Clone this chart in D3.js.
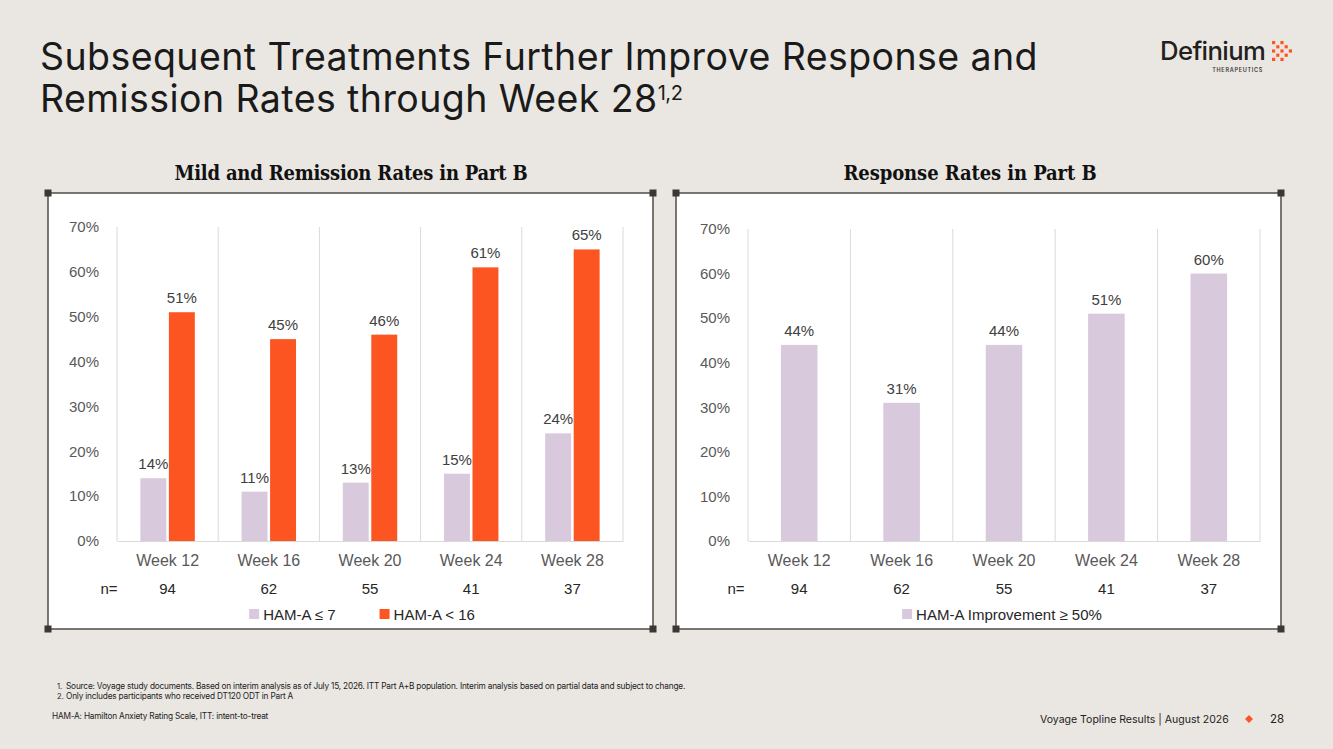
<!DOCTYPE html>
<html>
<head>
<meta charset="utf-8">
<script src="https://cdn.jsdelivr.net/npm/d3@7"></script>
<style>
  html, body { margin: 0; padding: 0; background: #eae7e2; }
  svg { display: block; }
</style>
</head>
<body>
<svg id="slide" width="1333" height="749"></svg>
<script>
// dades del gràfic
var weeks = ["Week 12", "Week 16", "Week 20", "Week 24", "Week 28"];
var nCounts = [94, 62, 55, 41, 37];
var hamaLe7 = [14, 11, 13, 15, 24];
var hamaLt16 = [51, 45, 46, 61, 65];
var improve50 = [44, 31, 44, 51, 60];
var yTicks = [0, 10, 20, 30, 40, 50, 60, 70];
var leftSeries = ["HAM-A \u2264 7", "HAM-A < 16"];
var rightSeries = ["HAM-A Improvement \u2265 50%"];

var LAV = "#d9c9dd", ORANGE = "#fd5522", GRID = "#d9d9d9";
var SANS = "'Liberation Sans', Arial, sans-serif";
var TITLEF = "Inter, 'Noto Sans', sans-serif";
var SERIF = "'DejaVu Serif Condensed', 'DejaVu Serif', serif";

var svg = d3.select("#slide");
svg.append("rect").attr("width", 1333).attr("height", 749).attr("fill", "#eae7e2");

// ajusta la mida de la lletra a una amplada donada
function fitWidth(t, target) {
  var w = t.node().getComputedTextLength();
  var fs = parseFloat(t.attr("font-size"));
  t.attr("font-size", fs * target / w);
  return fs * target / w;
}
// ajusta l'espaiat entre lletres a una amplada donada
function fitSpacing(t, target) {
  var w = t.node().getComputedTextLength();
  var n = t.text().length;
  var ls = parseFloat(t.attr("letter-spacing") || 0) + (target - w) / n;
  t.attr("letter-spacing", ls);
  return ls;
}

// títol
var t1 = svg.append("text").attr("x", 40).attr("y", 70)
  .attr("font-family", TITLEF).attr("font-size", 37.5)
  .attr("fill", "#1a1a1a").attr("letter-spacing", 0)
  .text("Subsequent Treatments Further Improve Response and");
var tls = fitSpacing(t1, 998);
var t2 = svg.append("text").attr("x", 40).attr("y", 112)
  .attr("font-family", TITLEF).attr("font-size", 37.5)
  .attr("fill", "#1a1a1a").attr("letter-spacing", tls);
t2.append("tspan").text("Remission Rates through Week 28");
t2.append("tspan").attr("font-size", 20).attr("dy", -12).attr("letter-spacing", -0.5).text("1,2");

// logo
var logo = svg.append("g");
var lt = logo.append("text").attr("x", 1160).attr("y", 60)
  .attr("font-family", "Inter, sans-serif").attr("font-size", 24).attr("font-weight", 500)
  .attr("fill", "#231f20").attr("letter-spacing", -0.6).text("Definium");
fitWidth(lt, 105);
logo.append("text").attr("x", 1263).attr("y", 72).attr("text-anchor", "end")
  .attr("font-family", "Inter, sans-serif").attr("font-size", 5.5).attr("font-weight", 600)
  .attr("letter-spacing", 0.7).attr("fill", "#3a3a3a").text("THERAPEUTICS");
var dotPattern = [[1,0,1,0,0],[0,1,0,1,0],[1,0,1,0,1],[0,1,0,1,0],[1,0,1,0,0]];
dotPattern.forEach(function(row, r) {
  row.forEach(function(v, c) {
    if (v) logo.append("rect").attr("x", 1272 + c * 4.2).attr("y", 41 + r * 4.2)
      .attr("width", 3.2).attr("height", 3.2).attr("fill", ORANGE);
  });
});

// panells
function panel(x0, x1, y0, y1, title, tcx, tw) {
  svg.append("rect").attr("x", x0).attr("y", y0).attr("width", x1 - x0).attr("height", y1 - y0)
    .attr("fill", "#fff").attr("stroke", "#5b5651").attr("stroke-width", 1.6);
  [[x0, y0], [x1, y0], [x0, y1], [x1, y1]].forEach(function(p) {
    svg.append("rect").attr("x", p[0] - 3.5).attr("y", p[1] - 3.5).attr("width", 7).attr("height", 7)
      .attr("fill", "#3b3733");
  });
  var tt = svg.append("text").attr("x", tcx).attr("y", 180).attr("text-anchor", "middle")
    .attr("font-family", SERIF).attr("font-weight", "bold")
    .attr("font-size", 20).attr("fill", "#111").text(title);
  fitSpacing(tt, tw);
}
panel(48, 653, 193, 629, "Mild and Remission Rates in Part B", 351, 353);
panel(676, 1281, 193, 629, "Response Rates in Part B", 970, 253);

function chart(opt) {
  var x = d3.scaleBand().domain(weeks).range([opt.left, opt.right]).padding(0);
  var y = d3.scaleLinear().domain([0, 70]).range([opt.base, opt.top]);
  var xs = d3.scaleBand().domain(opt.series.map(function(s) { return s.name; }))
    .range([0, x.bandwidth()]).paddingInner(opt.pIn).paddingOuter(opt.pOut);
  var g = svg.append("g");

  // línies verticals
  g.selectAll(".vg").data(weeks.concat(["end"])).enter().append("line")
    .attr("x1", function(d) { return d === "end" ? opt.right : x(d); })
    .attr("x2", function(d) { return d === "end" ? opt.right : x(d); })
    .attr("y1", y(70)).attr("y2", y(0)).attr("stroke", GRID).attr("stroke-width", 1);

  // eix y
  var ya = g.append("g").attr("transform", "translate(" + (opt.left - 15) + ",0)")
    .call(d3.axisLeft(y).tickValues(yTicks).tickSize(0).tickFormat(function(d) { return d + "%"; }));
  ya.select(".domain").remove();
  ya.selectAll("text").attr("font-family", SANS).attr("font-size", 15).attr("fill", "#595959");

  // eix x
  var xa = g.append("g").attr("transform", "translate(0," + y(0) + ")")
    .call(d3.axisBottom(x).tickSize(0).tickPadding(14));
  xa.select(".domain").attr("stroke", GRID);
  xa.selectAll("text").attr("font-family", SANS).attr("font-size", 16).attr("fill", "#595959");

  opt.series.forEach(function(s) {
    var data = weeks.map(function(w, i) { return { week: w, v: s.values[i] }; });
    g.selectAll(null).data(data).enter().append("rect")
      .attr("x", function(d) { return x(d.week) + xs(s.name); })
      .attr("width", xs.bandwidth())
      .attr("y", function(d) { return y(d.v); })
      .attr("height", function(d) { return y(0) - y(d.v); })
      .attr("fill", s.color);
    g.selectAll(null).data(data).enter().append("text")
      .attr("x", function(d) { return x(d.week) + xs(s.name) + xs.bandwidth() / 2; })
      .attr("y", function(d) { return y(d.v) - 9; })
      .attr("text-anchor", "middle").attr("font-family", SANS).attr("font-size", 15)
      .attr("fill", "#404040").text(function(d) { return d.v + "%"; });
  });

  // fila n=
  g.append("text").attr("x", opt.nx).attr("y", 594).attr("text-anchor", "middle")
    .attr("font-family", SANS).attr("font-size", 15).attr("fill", "#262626").text("n=");
  g.selectAll(null).data(weeks).enter().append("text")
    .attr("x", function(d) { return x(d) + x.bandwidth() / 2; }).attr("y", 594)
    .attr("text-anchor", "middle").attr("font-family", SANS).attr("font-size", 15)
    .attr("fill", "#262626").text(function(d, i) { return nCounts[i]; });

  // llegenda
  var lg = g.append("g");
  var cx = 0;
  opt.series.forEach(function(s, i) {
    var it = lg.append("g").attr("transform", "translate(" + cx + ",0)");
    it.append("rect").attr("x", 0).attr("y", 609).attr("width", 10).attr("height", 10).attr("fill", s.color);
    var tx = it.append("text").attr("x", 14).attr("y", 620).attr("font-family", SANS)
      .attr("font-size", 15).attr("fill", "#262626").text(s.name);
    cx += 14 + tx.node().getComputedTextLength() + 44;
  });
  var lw = lg.node().getBBox().width;
  lg.attr("transform", "translate(" + ((opt.left + opt.right) / 2 + opt.lgShift - lw / 2) + ",0)");
}

chart({
  left: 117, right: 623, top: 227, base: 541, nx: 109, pIn: 0.09, pOut: 0.82, lgShift: -8,
  series: [
    { name: leftSeries[0], values: hamaLe7, color: LAV },
    { name: leftSeries[1], values: hamaLt16, color: ORANGE }
  ]
});
chart({
  left: 748, right: 1260, top: 229, base: 541, nx: 736, pIn: 0, pOut: 0.9, lgShift: -2,
  series: [
    { name: rightSeries[0], values: improve50, color: LAV }
  ]
});

// notes al peu
var notes = svg.append("g").attr("font-family", "Inter, 'Liberation Sans', sans-serif").attr("fill", "#222");
notes.append("text").attr("x", 57).attr("y", 689).attr("font-size", 7.5).text("1.");
var n1 = notes.append("text").attr("x", 66).attr("y", 689).attr("font-size", 7.5).attr("letter-spacing", -0.2)
  .text("Source: Voyage study documents. Based on interim analysis as of July 15, 2026.  ITT Part A+B population.  Interim analysis based on partial data and subject to change.");
fitWidth(n1, 617);
notes.append("text").attr("x", 57).attr("y", 699).attr("font-size", 7.5).text("2.");
notes.append("text").attr("x", 66).attr("y", 699).attr("font-size", n1.attr("font-size")).attr("letter-spacing", -0.2)
  .text("Only includes participants who received DT120 ODT in Part A");
notes.append("text").attr("x", 52).attr("y", 719).attr("font-size", n1.attr("font-size")).attr("letter-spacing", -0.2)
  .text("HAM-A: Hamilton Anxiety Rating Scale, ITT: intent-to-treat");

var ft = svg.append("text").attr("x", 1040).attr("y", 723).attr("font-family", "Inter, sans-serif")
  .attr("font-size", 11.5).attr("fill", "#222").text("Voyage Topline Results | August 2026");
fitWidth(ft, 189);
svg.append("path").attr("d", d3.symbol(d3.symbolDiamond2, 40)()).attr("transform", "translate(1249,719)")
  .attr("fill", ORANGE);
svg.append("text").attr("x", 1270).attr("y", 723).attr("font-family", "Inter, sans-serif")
  .attr("font-size", 11.5).attr("fill", "#222").text("28");
</script>
</body>
</html>
